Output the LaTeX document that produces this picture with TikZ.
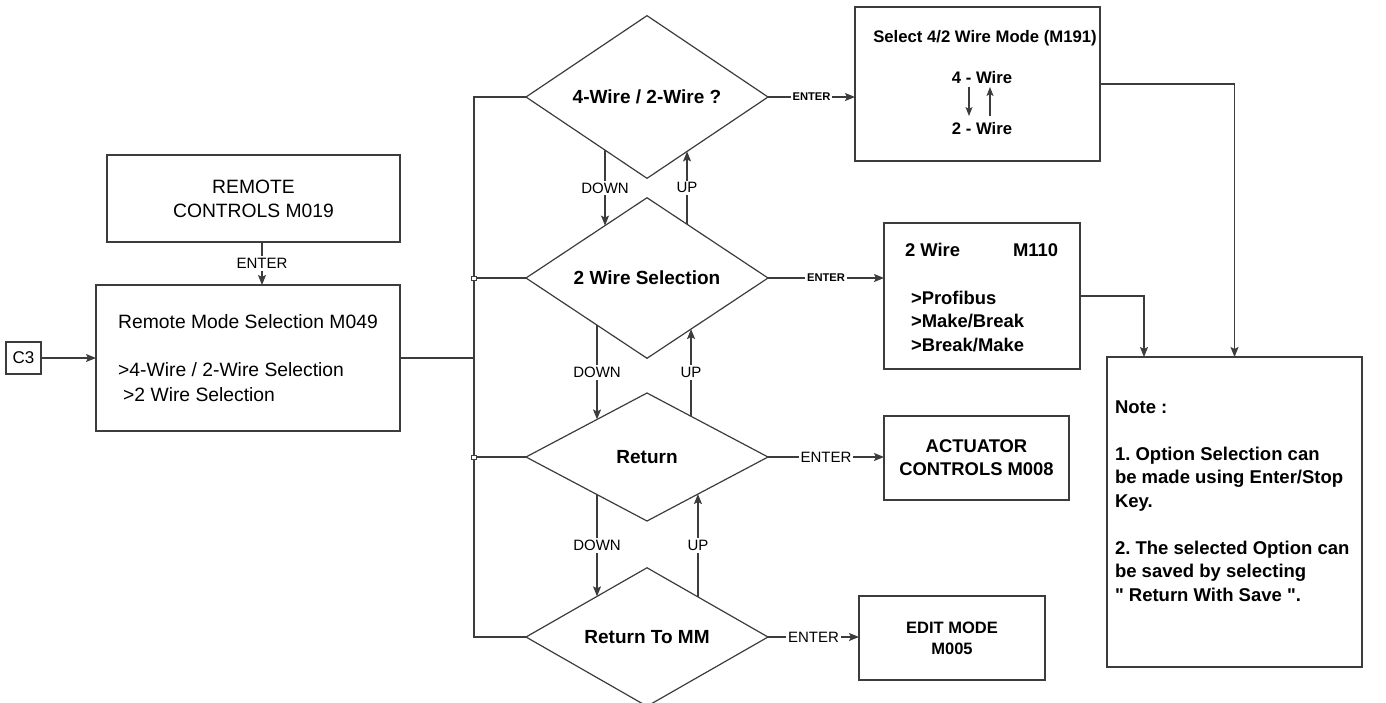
\documentclass[tikz,border=0pt]{standalone}
\usepackage{fontspec}
\setmainfont{Liberation Sans}[Ligatures=TeXOff]
\usetikzlibrary{shapes.geometric,arrows.meta,calc}
\definecolor{lc}{RGB}{60,60,60}
\frenchspacing
\begin{document}
\begin{tikzpicture}[x=1pt,y=-1pt,
  ln/.style={draw=lc,line width=1.2pt},
  arr/.style={ln,-{Stealth[length=10pt,width=8pt,inset=2pt]}},
  sarr/.style={draw=lc,line width=1.1pt,-{Stealth[length=9pt,width=7pt,inset=2pt]}},
  box/.style={draw=lc,line width=1.2pt,rectangle,inner sep=0pt,outer sep=0pt},
  dia/.style={draw=lc,line width=1.2pt,diamond,minimum width=242pt,minimum height=128pt,inner sep=0pt,outer sep=0pt,font=\fontsize{19}{23}\selectfont\bfseries},
  lab/.style={fill=white,inner sep=2pt,text=black},
  regl/.style={font=\fontsize{15}{18}\selectfont},
  boldl/.style={font=\fontsize{11.2}{13}\selectfont\bfseries},
  txt/.style={inner sep=0pt,outer sep=0pt},
  sq/.style={draw=lc,fill=white,line width=0.8pt,rectangle,minimum width=5pt,minimum height=4pt,inner sep=0pt},
  mfont/.style={font=\fontsize{18.4}{23}\selectfont\bfseries},
  sfont/.style={font=\fontsize{16.7}{20}\selectfont\bfseries}
]
\useasboundingbox (0,0) rectangle (1386,702);

% left part
\node[box,minimum width=35pt,minimum height=32pt,font=\fontsize{17}{20}\selectfont] (c3) at (23.5,358) {C3};
\node[box,minimum width=293pt,minimum height=87pt,align=center,font=\fontsize{19.3}{24}\selectfont] (rc) at (253.5,198.5) {REMOTE\\CONTROLS M019};
\node[box,minimum width=304pt,minimum height=146pt,align=left,font=\fontsize{19.3}{25}\selectfont] (rm) at (248,358) {Remote Mode Selection M049\\[23pt]>4-Wire / 2-Wire Selection\\\hspace*{5pt}>2 Wire Selection};

% diamonds
\node[dia] (d1) at (647,97) {4-Wire / 2-Wire ?};
\node[dia] (d2) at (647,278) {2 Wire Selection};
\node[dia] (d3) at (647,457) {Return};
\node[dia] (d4) at (647,637) {Return To MM};

% right boxes
\node[box,minimum width=245pt,minimum height=154pt] (sel) at (977.5,84) {};
\node[txt,sfont,anchor=base] (selt) at (985,42) {Select 4/2 Wire Mode (M191)};
\node[txt,sfont,anchor=base] (w4) at (982,83) {4 - Wire};
\node[txt,sfont,anchor=base] (w2) at (982,134) {2 - Wire};
\coordinate (a1) at (969,87);
\coordinate (a2) at (969,116);
\coordinate (a3) at (990,116);
\coordinate (a4) at (990,87);
\draw[sarr] (a1) -- (a2);
\draw[sarr] (a3) -- (a4);

\node[box,minimum width=196pt,minimum height=146pt] (m110) at (982,296) {};
\node[txt,mfont,anchor=base west] (m1) at (905,256.6) {2 Wire};
\node[txt,mfont,anchor=base west] (m2) at (1013,256.6) {M110};
\node[txt,mfont,anchor=base west] (m3) at (911,304.6) {>Profibus};
\node[txt,mfont,anchor=base west] (m4) at (911,327.6) {>Make/Break};
\node[txt,mfont,anchor=base west] (m5) at (911,351.6) {>Break/Make};

\node[box,minimum width=185pt,minimum height=84pt,align=center,mfont] (act) at (976.5,458) {ACTUATOR\\CONTROLS M008};
\node[box,minimum width=186pt,minimum height=84pt,align=center,font=\fontsize{16.5}{21}\selectfont\bfseries] (edit) at (952,638) {EDIT MODE\\M005};

\node[box,minimum width=255pt,minimum height=310pt] (note) at (1234.5,512) {};
\node[txt,anchor=north west,align=left,font=\fontsize{18.5}{23.5}\selectfont\bfseries] (notet) at (1115,400.5) {Note :\\[23.5pt]1. Option Selection can\\be made using Enter/Stop\\Key.\\[23.5pt]2. The selected Option can\\be saved by selecting\\" Return With Save ".};

% connectors left
\coordinate (bus) at (474,0);
\coordinate (ex) at (262,0);
\coordinate (n2) at (1144,0);
\draw[arr] (c3) -- (rm);
\draw[arr] (rc.south -| ex) -- node[lab,regl]{ENTER} (rm.north -| ex);
\draw[ln] (rm.east) -- (rm.east -| bus);
\draw[ln] (d1.west) -- (d1.west -| bus) -- (d4.west -| bus) -- (d4.west);
\draw[ln] (d2.west) -- (d2.west -| bus);
\draw[ln] (d3.west) -- (d3.west -| bus);
\node[sq] (s2) at (d2.west -| bus) {};
\node[sq] (s3) at (d3.west -| bus) {};

% vertical arrows
\draw[arr] ($(d1.south)!0.347!(d1.west)$) -- node[lab,regl]{DOWN} ($(d2.north)!0.347!(d2.west)$);
\draw[arr] ($(d2.north)!0.331!(d2.east)$) -- node[lab,regl]{UP} ($(d1.south)!0.331!(d1.east)$);
\draw[arr] ($(d2.south)!0.413!(d2.west)$) -- node[lab,regl]{DOWN} ($(d3.north)!0.413!(d3.west)$);
\draw[arr] ($(d3.north)!0.364!(d3.east)$) -- node[lab,regl]{UP} ($(d2.south)!0.364!(d2.east)$);
\draw[arr] ($(d3.south)!0.413!(d3.west)$) -- node[lab,regl]{DOWN} ($(d4.north)!0.413!(d4.west)$);
\draw[arr] ($(d4.north)!0.421!(d4.east)$) -- node[lab,regl]{UP} ($(d3.south)!0.421!(d3.east)$);

% enter arrows
\draw[arr] (d1.east) -- node[lab,boldl]{ENTER} (d1.east -| sel.west);
\draw[arr] (d2.east) -- node[lab,boldl]{ENTER} (d2.east -| m110.west);
\draw[arr] (d3.east) -- node[lab,regl]{ENTER} (d3.east -| act.west);
\draw[arr] (d4.east) -- node[lab,regl]{ENTER} (d4.east -| edit.west);

% right connectors
\draw[arr] (sel.east) -| (note.north);
\draw[arr] (m110.east) -| (note.north -| n2);
\end{tikzpicture}
\end{document}
